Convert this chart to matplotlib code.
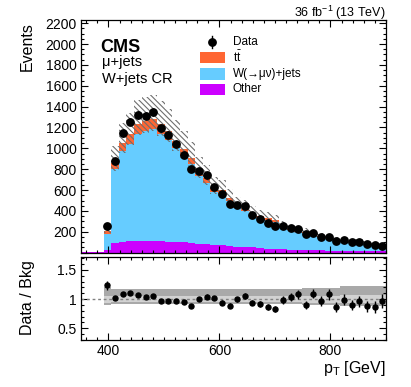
import numpy as np
import matplotlib
matplotlib.use("Agg")
import matplotlib.pyplot as plt
from matplotlib.patches import Rectangle
from matplotlib.lines import Line2D
from matplotlib.ticker import MultipleLocator, FuncFormatter

plt.rcParams['font.family'] = ['Liberation Sans', 'DejaVu Sans']
plt.rcParams['mathtext.fontset'] = 'custom'
plt.rcParams['mathtext.rm'] = 'Liberation Sans'
plt.rcParams['mathtext.it'] = 'Liberation Sans:italic'
plt.rcParams['mathtext.bf'] = 'Liberation Sans:bold'
plt.rcParams['hatch.linewidth'] = 0.8
plt.rcParams['hatch.color'] = '#6e6e6e'

# --------- data ---------
pt_lo, pt_hi, n_bins = 350, 900, 40   # GeV binning

other = [8, 8, 8, 25, 95, 100, 114, 116, 112, 110, 112, 106, 104, 98,
         92, 88, 82, 76, 70, 64, 58, 55, 50, 45, 40, 36, 33, 30, 28, 26,
         24, 22, 20, 18, 17, 16, 15, 14, 13, 12]
ttbar = [0, 0, 0, 25, 60, 80, 90, 100, 100, 100, 90, 80, 72, 64,
         58, 50, 45, 40, 36, 32, 28, 26, 23, 21, 19, 17, 15, 13, 12, 11,
         10, 9, 8, 7, 7, 6, 6, 5, 5, 4]
wjets = [0, 0, 0, 156, 708, 875, 932, 1021, 1051, 1073, 1028, 978, 899, 831,
         759, 648, 589, 505, 492, 428, 370, 347, 311, 286, 271, 257, 212, 187, 167, 162,
         135, 127, 108, 103, 98, 88, 88, 76, 67, 52]
data = [np.nan, np.nan, np.nan, 255, 880, 1145, 1257, 1321, 1314, 1347, 1193, 1129, 1043, 937,
        800, 786, 745, 633, 560, 464, 454, 452, 361, 322, 284, 256, 256, 239, 224, 179,
        185, 153, 147, 111, 121, 99, 105, 83, 73, 66]

# relative background uncertainties (total up/down, stat only)
unc_up = [0, 0, 0, 0.21, 0.18, 0.18, 0.18, 0.18, 0.18, 0.18, 0.18, 0.18, 0.18, 0.17,
          0.17, 0.17, 0.17, 0.17, 0.17, 0.17, 0.17, 0.17, 0.17, 0.17, 0.17, 0.17, 0.17, 0.17, 0.17, 0.19,
          0.19, 0.19, 0.19, 0.19, 0.22, 0.22, 0.22, 0.22, 0.22, 0.22]
unc_dn = [0, 0, 0, 0.10, 0.09, 0.09, 0.09, 0.09, 0.09, 0.09, 0.09, 0.09, 0.09, 0.09,
          0.09, 0.09, 0.09, 0.09, 0.09, 0.09, 0.09, 0.09, 0.09, 0.09, 0.09, 0.09, 0.09, 0.09, 0.09, 0.10,
          0.10, 0.10, 0.10, 0.10, 0.11, 0.11, 0.11, 0.11, 0.11, 0.11]
unc_stat = [0, 0, 0, 0.06, 0.05, 0.05, 0.05, 0.05, 0.05, 0.05, 0.05, 0.05, 0.05, 0.05,
            0.05, 0.05, 0.05, 0.05, 0.05, 0.05, 0.05, 0.05, 0.05, 0.05, 0.05, 0.05, 0.05, 0.05, 0.05, 0.06,
            0.06, 0.06, 0.06, 0.06, 0.07, 0.07, 0.07, 0.07, 0.07, 0.07]

c_tt = "#ff6633"
c_w = "#66ccff"
c_other = "#cc00ff"

W, H = 411, 387


def fx(x):
    return x / W


def fy(y):
    return 1 - y / H


def _ticks(ax, xmaj, xmin, ymaj, ymin):
    ax.xaxis.set_major_locator(MultipleLocator(xmaj))
    ax.xaxis.set_minor_locator(MultipleLocator(xmin))
    ax.yaxis.set_major_locator(MultipleLocator(ymaj))
    ax.yaxis.set_minor_locator(MultipleLocator(ymin))
    ax.tick_params(which="both", direction="in", top=True, right=True, labelsize=10, pad=3)
    ax.tick_params(which="major", length=5, width=0.8)
    ax.tick_params(which="minor", length=2.5, width=0.8)
    for s in ax.spines.values():
        s.set_linewidth(0.9)


edges = np.linspace(pt_lo, pt_hi, n_bins + 1)
centers = 0.5 * (edges[:-1] + edges[1:])
other = np.array(other, float)
ttbar = np.array(ttbar, float)
wjets = np.array(wjets, float)
data = np.array(data, float)
b_ow = other + wjets
total = b_ow + ttbar
up = np.array(unc_up)
dn = np.array(unc_dn)
st = np.array(unc_stat)

fig = plt.figure(figsize=(W / 100, H / 100), dpi=100)
ax = fig.add_axes([fx(80.7), fy(252.7), fx(386) - fx(80.7), fy(20) - fy(252.7)])
rax = fig.add_axes([fx(80.7), fy(340), fx(386) - fx(80.7), fy(257) - fy(340)])

# --------- main panel ---------
ax.stairs(other, edges, baseline=0, fill=True, color=c_other, lw=0)
ax.stairs(b_ow, edges, baseline=other, fill=True, color=c_w, lw=0)
ax.stairs(total, edges, baseline=b_ow, fill=True, color=c_tt, lw=0)
ax.stairs(total * (1 + up), edges, baseline=total * (1 - dn), fill=True,
          facecolor="none", edgecolor="#6e6e6e", hatch="\\\\\\\\\\\\", lw=0)
ax.errorbar(centers, data, yerr=np.sqrt(data), fmt="o", color="k", ms=5.3,
            lw=1, capsize=0)
ax.set_xlim(pt_lo, pt_hi)
ax.set_ylim(0, 2230)
_ticks(ax, 200, 20, 200, 50)
ax.tick_params(labelbottom=False)
ax.yaxis.set_major_formatter(FuncFormatter(lambda v, p: "" if v == 0 else f"{v:.0f}"))

# --------- ratio panel ---------
ratio = data / total
rerr = np.sqrt(data) / total
rax.stairs(1 + up, edges, baseline=1 - dn, fill=True, color="#a9a9a9", lw=0)
rax.stairs(1 + st, edges, baseline=1 - st, fill=True, color="#d2d2d2", lw=0)
rax.axhline(1, color="#808080", ls=(0, (2, 2)), lw=1)
rax.errorbar(centers, ratio, yerr=rerr, fmt="o", color="k", ms=3.6, lw=1, capsize=0)
rax.set_xlim(pt_lo, pt_hi)
rax.set_ylim(0.3, 1.72)
_ticks(rax, 200, 20, 0.5, 0.1)
rax.yaxis.set_major_formatter(FuncFormatter(lambda v, p: f"{v:g}"))

# --------- labels ---------
fig.text(fx(386), fy(12.7), r"36 fb$^{-1}$ (13 TeV)", ha="right", va="center", fontsize=9)
fig.text(fx(100), fy(51.7), "CMS", fontweight="bold", fontsize=13, va="baseline")
fig.text(fx(101.7), fy(65.7), "μ+jets", fontsize=10.5, va="baseline")
fig.text(fx(101.7), fy(83.3), "W+jets CR", fontsize=10.5, va="baseline")
fig.text(fx(27.7), fy(21.7), "Events", rotation=90, ha="center", va="top", fontsize=11.5)
fig.text(fx(27.7), fy(297.5), "Data / Bkg", rotation=90, ha="center", va="center", fontsize=11.5)
fig.text(fx(386), fy(373.5), r"p$_\mathrm{T}$ [GeV]", ha="right", va="baseline", fontsize=11.5)

# --------- legend (drawn by hand, CMS style) ---------
fig.add_artist(Line2D([fx(212.3)], [fy(41.7)], marker="o", color="k", ms=5.3,
                      transform=fig.transFigure))
fig.add_artist(Line2D([fx(212.3), fx(212.3)], [fy(36), fy(47.5)], color="k", lw=1,
                      transform=fig.transFigure))
fig.text(fx(232.7), fy(41.7), "Data", fontsize=8.5, va="center")
leg_items = [(c_tt, r"$\mathrm{t\bar{t}}$", 57.5),
             (c_w, "W(→μν)+jets", 73.8),
             (c_other, "Other", 89.5)]
for col, lab, yc in leg_items:
    fig.add_artist(Rectangle((fx(200), fy(yc + 5.8)), fx(225) - fx(200), (11.6) / H,
                             facecolor=col, edgecolor="none", transform=fig.transFigure))
    fig.text(fx(232.7), fy(yc), lab, fontsize=8.5, va="center")

fig.savefig("out.png", dpi=100)
